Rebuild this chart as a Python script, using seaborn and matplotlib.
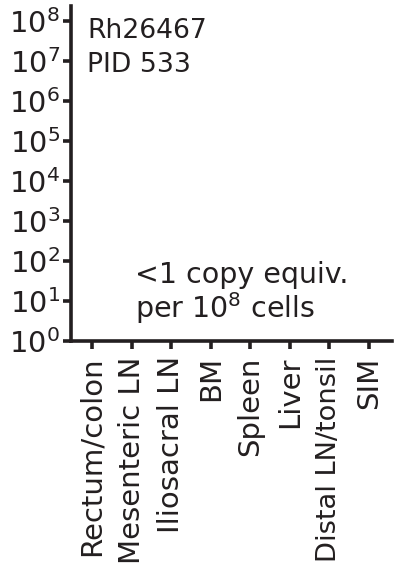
import numpy as np
import pandas as pd
import matplotlib
matplotlib.use("Agg")
import matplotlib.pyplot as plt
import seaborn as sns

# ---- data ----
tissues = ["Rectum/colon", "Mesenteric LN", "Iliosacral LN", "BM",
           "Spleen", "Liver", "Distal LN/tonsil", "SIM"]
# all below detection limit: <1 copy equiv. per 10^8 cells
copies = [np.nan, np.nan, np.nan, np.nan, np.nan, np.nan, np.nan, np.nan]
ytick_exps = [0, 1, 2, 3, 4, 5, 6, 7, 8]
animal_label = ["Rh26467", "PID 533"]
note_lines = ["<1 copy equiv.", "per 10$^{8}$ cells"]

sns.set_theme(style="ticks")
ink = "#231f20"
plt.rcParams["font.family"] = ["DejaVu Sans"]
plt.rcParams["mathtext.fontset"] = "dejavusans"
plt.rcParams["text.color"] = ink

fig = plt.figure(figsize=(3.96, 5.76), dpi=100)
ax = fig.add_axes([71/396, 1 - 341/576, (392 - 71)/396, (341 - 6)/576])

df = pd.DataFrame({"tissue": tissues, "copies": copies})
sns.stripplot(data=df, x="tissue", y="copies", order=tissues, ax=ax,
              color=ink, size=6)

ax.set_yscale("log")
ax.set_ylim(1, 10 ** 8.375)
ax.set_xlim(-0.53, 7.58)
ax.set_yticks([10.0 ** e for e in ytick_exps])
ax.set_yticklabels([r"$\mathregular{10^{%d}}$" % e for e in ytick_exps])
ax.yaxis.set_minor_locator(matplotlib.ticker.NullLocator())
ax.set_xticks(range(len(tissues)))
ax.set_xticklabels(tissues, rotation=90, ha="center", va="top")
ax.set_xlabel("")
ax.set_ylabel("")

for side in ["top", "right"]:
    ax.spines[side].set_visible(False)
for side in ["left", "bottom"]:
    ax.spines[side].set_linewidth(2.6)
    ax.spines[side].set_color(ink)
    ax.spines[side].set_capstyle("projecting")

ax.tick_params(axis="y", direction="out", length=6, width=2.6, color=ink,
               labelsize=20.8, pad=2, labelcolor=ink)
ax.tick_params(axis="x", direction="out", length=6, width=2.6, color=ink,
               labelsize=21, pad=5, labelcolor=ink)
# keep the longest label inside the figure
for lbl in ax.get_xticklabels():
    if lbl.get_text() == "Distal LN/tonsil":
        lbl.set_fontsize(19.6)

ax.text(87/396, 1 - 38/576, animal_label[0], transform=fig.transFigure,
        fontsize=19.2, ha="left", va="baseline", color=ink)
ax.text(87/396, 1 - 72/576, animal_label[1], transform=fig.transFigure,
        fontsize=19.2, ha="left", va="baseline", color=ink)
ax.text(135/396, 1 - 283/576, note_lines[0], transform=fig.transFigure,
        fontsize=20.5, ha="left", va="baseline", color=ink)
ax.text(135/396, 1 - 318/576, note_lines[1], transform=fig.transFigure,
        fontsize=20.5, ha="left", va="baseline", color=ink)

fig.savefig("out.png", dpi=100, facecolor="white")
